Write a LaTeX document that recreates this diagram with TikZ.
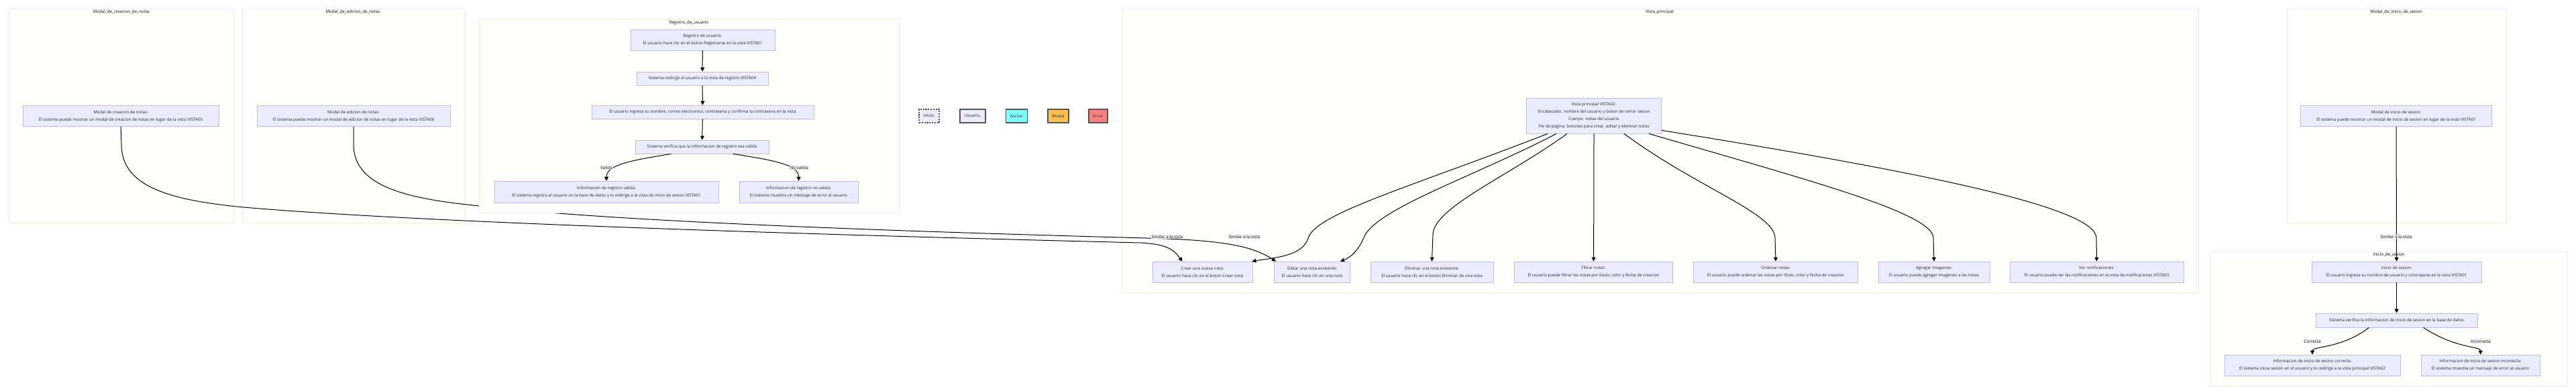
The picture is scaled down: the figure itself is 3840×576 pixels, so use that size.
\documentclass[tikz,border=0pt]{standalone}
\usepackage{fontspec}
\setmainfont{Open Sans}
\usetikzlibrary{arrows.meta}

\definecolor{cajafondo}{HTML}{ECECFF}
\definecolor{cajaborde}{HTML}{C2B8F2}
\definecolor{grupofondo}{HTML}{FFFFFE}
\definecolor{grupoborde}{HTML}{F0F0DA}
\definecolor{texto}{HTML}{262626}
\definecolor{etiquetafondo}{HTML}{E8E8E8}
\definecolor{leyendaborde}{HTML}{555555}
\definecolor{accionc}{HTML}{80FFFF}
\definecolor{modalc}{HTML}{FFC04D}
\definecolor{errorc}{HTML}{FF7F7F}

\newcommand{\fuente}{\fontsize{6.2}{11}\selectfont}

\tikzset{
  caja/.style={draw=cajaborde, fill=cajafondo, line width=0.7pt, inner sep=0pt,
    align=center, text=texto, font=\fuente},
  grupo/.style={draw=grupoborde, fill=grupofondo, line width=0.7pt},
  titulo/.style={font=\fuente, text=black, inner sep=0pt},
  flecha/.style={-{Triangle[length=6pt,width=6pt]}, line width=1pt},
  etiqueta/.style={fill=etiquetafondo, inner sep=1pt, font=\fuente, text=texto},
  leyenda/.style={draw=leyendaborde, line width=1.2pt, inner sep=0pt,
    minimum height=20pt, font=\fuente, text=texto}
}

\begin{document}
\begin{tikzpicture}[x=1pt,y=-1pt]
\useasboundingbox (0,0) rectangle (3840,576);

% グループを描画
\draw[grupo] (13,13) rectangle (348,332);
\draw[grupo] (361,13) rectangle (692,332);
\draw[grupo] (1672,13) rectangle (3277,436);
\draw[grupo] (3409,13) rectangle (3736,332);
\draw[grupo] (3295,375) rectangle (3827,575);
\node[titulo] (tmc) at (181,18) {Modal\_de\_creacion\_de\_notas};
\node[titulo] (tme) at (526,18) {Modal\_de\_edicion\_de\_notas};
\node[titulo] (tvp) at (2474,18) {Vista\_principal};
\node[titulo] (tmis) at (3572,18) {Modal\_de\_inicio\_de\_sesion};
\node[titulo] (tis) at (3561,380) {Inicio\_de\_sesion};

% モーダル
\node[caja, minimum width=292pt, minimum height=31pt] (mc) at (180,173)
  {Modal de creacion de notas:\\El sistema puede mostrar un modal de creacion de notas en lugar de la vista VISTA05};
\node[caja, minimum width=288pt, minimum height=31pt] (me) at (527,173)
  {Modal de edicion de notas:\\El sistema puede mostrar un modal de edicion de notas en lugar de la vista VISTA06};
\node[caja, minimum width=285pt, minimum height=31pt] (mis) at (3572,173)
  {Modal de inicio de sesion:\\El sistema puede mostrar un modal de inicio de sesion en lugar de la vista VISTA01};

% ビュー本体
\node[caja, minimum width=201pt, minimum height=53pt] (vp) at (2376,172.5)
  {Vista principal VISTA02:\\Encabezado: nombre del usuario y boton de cerrar sesion\\Cuerpo: notas del usuario\\Pie de pagina: botones para crear, editar y eliminar notas};
\node[caja, minimum width=149pt, minimum height=31pt] (n1) at (1792.5,405.5)
  {Crear una nueva nota:\\El usuario hace clic en el boton Crear nota};
\node[caja, minimum width=113pt, minimum height=31pt] (n2) at (1956,405.5)
  {Editar una nota existente:\\El usuario hace clic en una nota};
\node[caja, minimum width=183pt, minimum height=31pt] (n3) at (2134.5,405.5)
  {Eliminar una nota existente:\\El usuario hace clic en el boton Eliminar de una nota};
\node[caja, minimum width=236pt, minimum height=31pt] (n4) at (2375.6,405.5)
  {Filtrar notas:\\El usuario puede filtrar las notas por titulo, color y fecha de creacion};
\node[caja, minimum width=245pt, minimum height=31pt] (n5) at (2647,405.5)
  {Ordenar notas:\\El usuario puede ordenar las notas por titulo, color y fecha de creacion};
\node[caja, minimum width=166pt, minimum height=31pt] (n6) at (2883,405.5)
  {Agregar imagenes:\\El usuario puede agregar imagenes a las notas};
\node[caja, minimum width=259pt, minimum height=31pt] (n7) at (3125.5,405.5)
  {Ver notificaciones:\\El usuario puede ver las notificaciones en la vista de notificaciones VISTA03};

% 長い矢印
\draw[flecha] (mc.south) -- (181,215) .. controls (181,282) and (260,302) .. (400,312)
  .. controls (700,335) and (1300,352) .. (1700,362)
  .. controls (1745,364) and (1752,376) .. ([xshift=-30pt]n1.north);
\draw[flecha] (me.south) -- (527,215) .. controls (527,276) and (600,296) .. (715,307)
  .. controls (900,329) and (1300,344) .. (1709,355)
  .. controls (1830,358) and (1868,368) .. ([xshift=-54pt]n2.north);

% 登録
\draw[grupo] (714,28) rectangle (1340,317);
\node[titulo] (treg) at (1027,34) {Registro\_de\_usuario};
\node[caja, minimum width=215pt, minimum height=31pt] (r1) at (1047.5,59.5)
  {Registro de usuario:\\El usuario hace clic en el boton Registrarse en la vista VISTA01};
\node[caja, minimum width=196pt, minimum height=20pt] (r2) at (1047,117)
  {Sistema redirige al usuario a la vista de registro VISTA04};
\node[caja, minimum width=331pt, minimum height=20pt] (r3) at (1047.5,167)
  {El usuario ingresa su nombre, correo electronico, contrasena y confirma la contrasena en la vista};
\node[caja, minimum width=199pt, minimum height=20pt] (r4) at (1046.5,219)
  {Sistema verifica que la informacion de registro sea valida};
\node[caja, minimum width=334pt, minimum height=32pt] (r5) at (904,286)
  {Informacion de registro valida:\\El sistema registra al usuario en la base de datos y lo redirige a la vista de inicio de sesion VISTA01};
\node[caja, minimum width=177pt, minimum height=32pt] (r6) at (1190.5,286)
  {Informacion de registro no valida:\\El sistema muestra un mensaje de error al usuario};
\draw[flecha] (r1) -- (r2);
\draw[flecha] (r2) -- (r3);
\draw[flecha] (r3) -- (r4);
\draw[flecha] ([xshift=-46pt]r4.south) .. controls (950,238) and (904,244) .. (r5.north);
\draw[flecha] ([xshift=46pt]r4.south) .. controls (1145,238) and (1191,244) .. (r6.north);

% 凡例
\node[leyenda, dash pattern=on 2.2pt off 1.6pt, fill=cajafondo, minimum width=30pt] (lg1) at (1385,173) {Inicio,};
\node[leyenda, fill=cajafondo, minimum width=38pt] (lg2) at (1450,173) {Usuario,};
\node[leyenda, fill=accionc, minimum width=32pt] (lg3) at (1515.5,173) {Accion};
\node[leyenda, fill=modalc, minimum width=31pt] (lg4) at (1577.5,173) {Modal};
\node[leyenda, fill=errorc, minimum width=28pt] (lg5) at (1637,173) {Error};

% ビュー本体からの矢印
\draw[flecha] ([xshift=-69pt]vp.south) .. controls (2100,280) and (1962,318) .. (1950,355)
  .. controls (1942,382) and (1900,384) .. ([xshift=-1pt]n1.north east);
\draw[flecha] ([xshift=-56pt]vp.south) .. controls (2200,262) and (2055,310) .. (2034,352)
  .. controls (2024,376) and (2012,384) .. ([xshift=42pt]n2.north);
\draw[flecha] ([xshift=-40pt]vp.south) .. controls (2250,262) and (2136,310) .. (2136,350)
  -- (n3.north);
\draw[flecha] (vp.south) -- (n4.north);
\draw[flecha] ([xshift=45pt]vp.south) .. controls (2530,280) and (2646,318) .. (2646,355)
  -- (n5.north);
\draw[flecha] ([xshift=82pt]vp.south) .. controls (2700,270) and (2882,318) .. (2882,355)
  -- (n6.north);
\draw[flecha] ([yshift=5pt]vp.south east) .. controls (2900,262) and (3125,312) .. (3125,355)
  -- (n7.north);

% ログイン
\node[caja, minimum width=253pt, minimum height=31pt] (is1) at (3572.5,405.5)
  {Inicio de sesion:\\El usuario ingresa su nombre de usuario y contrasena en la vista VISTA01};
\node[caja, minimum width=241pt, minimum height=21pt] (is2) at (3572.5,477.5)
  {Sistema verifica la informacion de inicio de sesion en la base de datos};
\node[caja, minimum width=262pt, minimum height=31pt] (is3) at (3447,544.5)
  {Informacion de inicio de sesion correcta:\\El sistema inicia sesion en el usuario y lo redirige a la vista principal VISTA02};
\node[caja, minimum width=177pt, minimum height=31pt] (is4) at (3697.5,544.5)
  {Informacion de inicio de sesion incorrecta:\\El sistema muestra un mensaje de error al usuario};
\draw[flecha] (mis) -- (is1);
\draw[flecha] (is1) -- (is2);
\draw[flecha] ([xshift=-41pt]is2.south) .. controls (3490,520) and (3447,516) .. (is3.north);
\draw[flecha] ([xshift=40pt]is2.south) .. controls (3660,520) and (3698,516) .. (is4.north);

% ラベル
\node[etiqueta] (lb1) at (904,250) {Valida};
\node[etiqueta] (lb2) at (1191,250) {No valida};
\node[etiqueta] (lb3) at (1740,353) {Similar a la vista};
\node[etiqueta] (lb4) at (1855,353) {Similar a la vista};
\node[etiqueta] (lb5) at (3572,353) {Similar a la vista};
\node[etiqueta] (lb6) at (3447,509) {Correcta};
\node[etiqueta] (lb7) at (3698,509) {Incorrecta};
\end{tikzpicture}
\end{document}
